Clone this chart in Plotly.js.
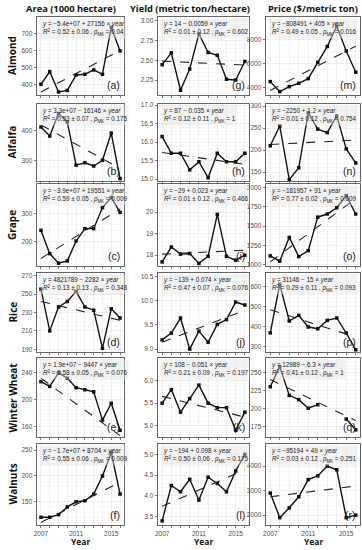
<!DOCTYPE html>
<html><head><meta charset="utf-8">
<script src="https://cdn.plot.ly/plotly-3.0.1.min.js"></script>
<style>html,body{margin:0;padding:0;background:#fff}#chart{width:362px;height:550px}</style>
</head><body><div id="chart"></div>
<script>
// ---------- DATA ----------
const years = [2007,2008,2009,2010,2011,2012,2013,2014,2015,2016];
const crops = ['Almond','Alfalfa','Grape','Rice','Winter Wheat','Walnuts'];
const columns = ['Area (1000 hectare)','Yield (metric ton/hectare)','Price ($/metric ton)'];
const panelLetters = ['(a)','(b)','(c)','(d)','(e)','(f)','(g)','(h)','(i)','(j)','(k)','(l)','(m)','(n)','(o)','(p)','(q)','(r)'];

// Area (1000 hectare)
const areaAlmond  = [403,478,358,367,458,462,488,462,740,600];
const areaAlfalfa = [413,383,458,430,286,294,283,302,393,241];
const areaGrape   = [240,157,123,131,202,246,246,321,357,304];
const areaRice    = [255.5,210,236,242,253,236,232.5,191,234,224];
const areaWheat   = [227,220,240,232,218,215,212,170,195,155];
const areaWalnut  = [120,120,125,140,150,152,165,200,245,165];
// Yield (metric ton/hectare)
const yieldAlmond  = [2.445,2.595,2.12,2.39,2.835,2.60,2.565,2.26,2.25,2.485];
const yieldAlfalfa = [16.15,15.70,15.70,15.25,15.47,15.04,15.70,15.47,15.47,15.70];
const yieldGrape   = [17.69,18.38,18.05,18.08,17.62,17.95,19.89,17.95,17.77,18.0];
const yieldRice    = [9.19,9.33,9.64,9.0,9.37,9.14,9.51,9.61,9.97,9.91];
const yieldWheat   = [5.5,5.8,5.3,5.6,5.9,5.5,5.4,5.4,4.9,5.3];
const yieldWalnut  = [3.4,4.25,4.1,4.4,3.9,4.45,4.3,4.1,4.6,5.0];
// Price ($/metric ton)
const priceAlmond  = [4524,3697,4110,4386,4772,6110,7420,9100,7050,5300];
const priceAlfalfa = [210,255,133,160,285,248,240,278,203,171];
const priceGrape   = [1113,1045,1353,1104,1181,1615,1656,1737,1895,1656];
const priceRice    = [368,610,427,455,397,388,430,442,367,283];
const priceWheat   = [230,258,218,212,200,205,null,null,185,170];
const priceWalnut  = [2900,1900,2300,2750,3450,3600,4000,3850,1900,2000];

// Fitted trend lines: value at 2007 and at 2016
const trendArea  = [[358,602],[420,275],[140,316],[242,221.5],[232,147],[110,188]];
const trendYield = [[2.49,2.44],[15.72,15.40],[18.05,18.23],[9.14,9.80],[5.65,5.19],[3.75,4.63]];
const trendPrice = [[3800,7445],[213,223],[1036,1855],[483,347],[240,183],[2750,3190]];

// Equation labels
const eqArea = [
 ['−5.4e+07 + 27156','0.52 ± 0.06','0.04'],
 ['3.3e+07 − 16146','0.53 ± 0.07','0.175'],
 ['−3.9e+07 + 19551','0.59 ± 0.05','0.009'],
 ['4821789 − 2282','0.13 ± 0.13','0.348'],
 ['1.9e+07 − 9447','0.58 ± 0.05','0.076'],
 ['−1.7e+07 + 8704','0.55 ± 0.06','0.009']];
const eqYield = [
 ['14 − 0.0059','0.01 ± 0.12','0.602'],
 ['87 − 0.035','0.12 ± 0.11','1'],
 ['−29 + 0.023','0.01 ± 0.12','0.466'],
 ['−139 + 0.074','0.47 ± 0.07','0.076'],
 ['108 − 0.051','0.21 ± 0.09','0.197'],
 ['−194 + 0.098','0.50 ± 0.06','0.175']];
const eqPrice = [
 ['−808491 + 405','0.49 ± 0.05','0.016'],
 ['−2250 + 1.2','0.01 ± 0.12','0.754'],
 ['−181957 + 91','0.77 ± 0.02','0.009'],
 ['31146 − 15','0.29 ± 0.11','0.093'],
 ['12989 − 6.3','0.41 ± 0.12','1'],
 ['−95194 + 49','0.03 ± 0.12','0.251']];

// Y tick values per panel
const ticksArea  = [[400,500,600,700],[300,400],[200,300],[190,210,230,250,270],[160,200,240],[150,200,250]];
const ticksYield = [[2.25,2.50,2.75,3.00],[15.0,15.5,16.0,16.5,17.0],[18,19,20],[9.0,9.5,10.0,10.5],[5.0,5.5,6.0],[3.5,4.0,4.5,5.0]];
const ticksPrice = [[4000,6000,8000],[150,200,250,300],[1000,1250,1500,1750,2000],[300,400,500,600],[175,200,225,250],[2000,3000,4000]];
const xTickLabels = [2007,2011,2015];

// ---------- LAYOUT CONFIG ----------
const W = 362, H = 550;
const colPx = [[37,124],[158,249],[266,360]];
const headerCx = [71,190,313];
const rowPx = [[17,95],[104,181],[184,266],[273,352],[358,437],[444,525]];
const rangesArea  = [[340,800],[233,490],[113,405],[187,273],[145,262],[105,262]];
const rangesYield = [[2.06,3.05],[14.95,17.03],[17.5,21.3],[8.94,10.57],[4.75,6.5],[3.3,5.25]];
const rangesPrice = [[3420,9850],[130,305],[982,2045],[272,667],[160,270],[1600,4900]];

const seriesCols = [
  [areaAlmond,areaAlfalfa,areaGrape,areaRice,areaWheat,areaWalnut],
  [yieldAlmond,yieldAlfalfa,yieldGrape,yieldRice,yieldWheat,yieldWalnut],
  [priceAlmond,priceAlfalfa,priceGrape,priceRice,priceWheat,priceWalnut]];
const trendCols = [trendArea,trendYield,trendPrice];
const eqCols = [eqArea,eqYield,eqPrice];
const tickCols = [ticksArea,ticksYield,ticksPrice];
const rangeCols = [rangesArea,rangesYield,rangesPrice];

const traces = [];
const layout = {
  width: W, height: H, margin:{l:0,r:0,t:0,b:0},
  paper_bgcolor:'#fff', plot_bgcolor:'#fff', showlegend:false,
  font:{family:'Liberation Sans, Arial, sans-serif', color:'#333'},
  annotations:[]
};
const tickFont = {family:'Liberation Sans, Arial, sans-serif', size:6.5, color:'#4d4d4d'};

let n = 0;
for (let c=0;c<3;c++){
  for (let r=0;r<6;r++){
    n++;
    const xs = n===1?'x':'x'+n, ys = n===1?'y':'y'+n;
    const xk = n===1?'xaxis':'xaxis'+n, yk = n===1?'yaxis':'yaxis'+n;
    const xd = [colPx[c][0]/W, colPx[c][1]/W];
    const yd = [1-rowPx[r][1]/H, 1-rowPx[r][0]/H];
    const bottom = (r===5);
    layout[xk] = {
      domain:xd, anchor:ys, range:[2006.55,2016.45],
      tickvals: years, ticktext: years.map(v=> (bottom && xTickLabels.includes(v))? String(v):''),
      ticks:'outside', ticklen:2.5, tickwidth:0.8, tickcolor:'#555',
      showline:true, mirror:true, linecolor:'#555', linewidth:0.9,
      showgrid:true, gridcolor:'#e6e6e6', gridwidth:0.6, zeroline:false,
      tickfont: tickFont, fixedrange:true
    };
    const tv = tickCols[c][r];
    layout[yk] = {
      domain:yd, anchor:xs, range:rangeCols[c][r],
      tickvals: tv, ticktext: tv.map(v=> c===1 && r===0 ? v.toFixed(2) : (c===1 && (r===1||r===3||r===4||r===5) ? v.toFixed(1) : String(v))),
      ticks:'outside', ticklen:2.5, tickwidth:0.8, tickcolor:'#555',
      showline:true, mirror:true, linecolor:'#555', linewidth:0.9,
      showgrid:true, gridcolor:'#e6e6e6', gridwidth:0.6, zeroline:false,
      minor:{showgrid:true, gridcolor:'#f3f3f3', gridwidth:0.5},
      tickfont: tickFont, fixedrange:true
    };
    const vals = seriesCols[c][r];
    traces.push({x:years, y:vals, xaxis:xs, yaxis:ys, type:'scatter', mode:'lines+markers',
      connectgaps:false,
      line:{color:'#111', width:1.4}, marker:{color:'#111', size:3.5, symbol:'square'}});
    const tr = trendCols[c][r];
    traces.push({x:[years[0], years[years.length-1]], y:tr, xaxis:xs, yaxis:ys, type:'scatter', mode:'lines',
      line:{color:'#222', width:1.1, dash:'dash'}});
    const eq = eqCols[c][r];
    layout.annotations.push({
      xref:xs+' domain', yref:ys+' domain', x:0.03, y:0.985, xanchor:'left', yanchor:'top',
      align:'left', showarrow:false, bgcolor:'rgba(228,228,228,0.45)', borderpad:1,
      font:{size:6.3, color:'#222', family:'Liberation Sans, Arial, sans-serif'},
      text:'<i>y</i> = '+eq[0]+' × <i>year</i><br><i>R</i><sup>2</sup> = '+eq[1]+' , <i>p</i><sub>MK</sub> = '+eq[2]
    });
    layout.annotations.push({
      xref:xs+' domain', yref:ys+' domain', x:0.98, y:0.02, xanchor:'right', yanchor:'bottom',
      showarrow:false, font:{size:10.5, color:'#222', family:'Liberation Sans, Arial, sans-serif'},
      text: panelLetters[c*6+r]
    });
  }
}
// Column headers and Year labels
for (let c=0;c<3;c++){
  const cx = (colPx[c][0]+colPx[c][1])/2/W;
  layout.annotations.push({xref:'paper', yref:'paper', x:headerCx[c]/W, y:1-9/H, xanchor:'center', yanchor:'middle',
    showarrow:false, text:'<b>'+columns[c]+'</b>', font:{size:9.3, color:'#111', family:'Open Sans, sans-serif'}});
  layout.annotations.push({xref:'paper', yref:'paper', x:cx, y:1-541/H, xanchor:'center', yanchor:'middle',
    showarrow:false, text:'<b>Year</b>', font:{size:8.5, color:'#111', family:'Open Sans, sans-serif'}});
}
// Row labels
for (let r=0;r<6;r++){
  const cy = 1-(rowPx[r][0]+rowPx[r][1])/2/H;
  layout.annotations.push({xref:'paper', yref:'paper', x:12/W, y:cy, xanchor:'center', yanchor:'middle',
    showarrow:false, textangle:-90, text:'<b>'+crops[r]+'</b>', font:{size:10, color:'#111', family:'Open Sans, sans-serif'}});
}
Plotly.newPlot('chart', traces, layout, {staticPlot:true, displayModeBar:false});
</script></body></html>
